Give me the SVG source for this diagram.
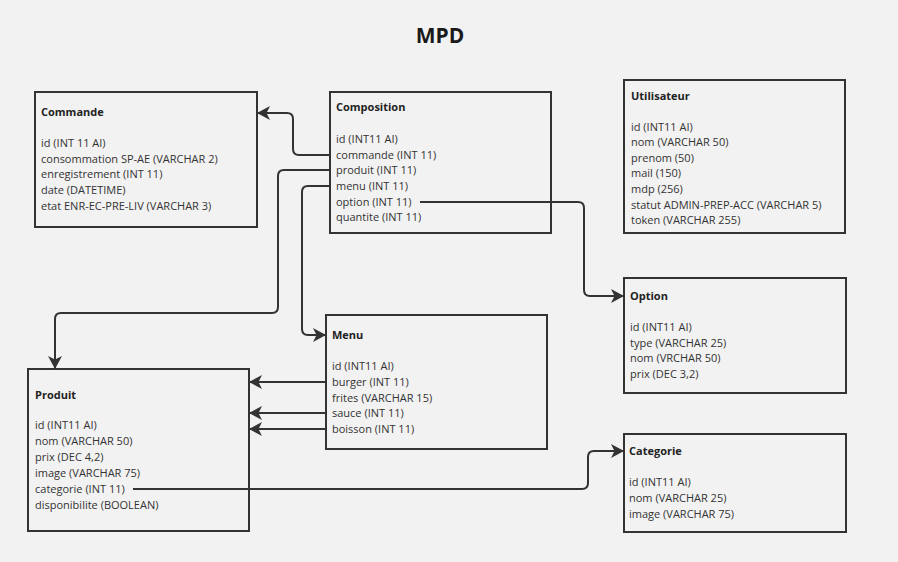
<svg xmlns="http://www.w3.org/2000/svg" width="898" height="562" viewBox="0 0 898 562">
<style>
.box{fill:#f2f2f2;stroke:#333;stroke-width:2}
.t{font-family:"Open Sans","Liberation Sans",sans-serif;font-size:11px;fill:#333}
.h{font-family:"Open Sans","Liberation Sans",sans-serif;font-size:11px;font-weight:bold;fill:#222}
.title{font-family:"Open Sans","Liberation Sans",sans-serif;font-size:21px;font-weight:bold;fill:#1a1a1a}
.c{fill:none;stroke:#333;stroke-width:2;marker-end:url(#arr)}
</style>
<defs>
<marker id="arr" viewBox="0 0 13 14" markerUnits="userSpaceOnUse" markerWidth="13" markerHeight="14" refX="13" refY="7" orient="auto">
<path d="M0,0 L13,7 L0,14 L3.5,7 z" fill="#333"/>
</marker>
</defs>
<rect width="898" height="562" fill="#f2f2f2"/>
<text class="title" x="440" y="43" text-anchor="middle">MPD</text>

<g id="commande">
<rect class="box" x="35" y="92" width="222" height="135"/>
<text class="h" x="41" y="116">Commande</text>
<text class="t" x="41" y="147">id (INT 11 AI)</text>
<text class="t" x="41" y="163">consommation SP-AE (VARCHAR 2)</text>
<text class="t" x="41" y="178">enregistrement (INT 11)</text>
<text class="t" x="41" y="194">date (DATETIME)</text>
<text class="t" x="41" y="210">etat ENR-EC-PRE-LIV (VARCHAR 3)</text>
</g>

<g id="composition">
<rect class="box" x="330" y="92" width="221" height="141"/>
<text class="h" x="336" y="111">Composition</text>
<text class="t" x="336" y="143">id (INT11 AI)</text>
<text class="t" x="336" y="159">commande (INT 11)</text>
<text class="t" x="336" y="174">produit (INT 11)</text>
<text class="t" x="336" y="190">menu (INT 11)</text>
<text class="t" x="336" y="206">option (INT 11)</text>
<text class="t" x="336" y="221">quantite (INT 11)</text>
</g>

<g id="utilisateur">
<rect class="box" x="624" y="80" width="221" height="153"/>
<text class="h" x="631" y="100">Utilisateur</text>
<text class="t" x="631" y="131">id (INT11 AI)</text>
<text class="t" x="631" y="146">nom (VARCHAR 50)</text>
<text class="t" x="631" y="162">prenom (50)</text>
<text class="t" x="631" y="177">mail (150)</text>
<text class="t" x="631" y="193">mdp (256)</text>
<text class="t" x="631" y="209">statut ADMIN-PREP-ACC (VARCHAR 5)</text>
<text class="t" x="631" y="224">token (VARCHAR 255)</text>
</g>

<g id="option">
<rect class="box" x="624" y="278" width="222" height="115"/>
<text class="h" x="630" y="300">Option</text>
<text class="t" x="630" y="331">id (INT11 AI)</text>
<text class="t" x="630" y="347">type (VARCHAR 25)</text>
<text class="t" x="630" y="362">nom (VRCHAR 50)</text>
<text class="t" x="630" y="378">prix (DEC 3,2)</text>
</g>

<g id="categorie">
<rect class="box" x="624" y="434" width="222" height="98"/>
<text class="h" x="629" y="455">Categorie</text>
<text class="t" x="629" y="486">id (INT11 AI)</text>
<text class="t" x="629" y="502">nom (VARCHAR 25)</text>
<text class="t" x="629" y="518">image (VARCHAR 75)</text>
</g>

<g id="produit">
<rect class="box" x="28" y="369" width="221" height="162"/>
<text class="h" x="35" y="399">Produit</text>
<text class="t" x="35" y="429">id (INT11 AI)</text>
<text class="t" x="35" y="445">nom (VARCHAR 50)</text>
<text class="t" x="35" y="461">prix (DEC 4,2)</text>
<text class="t" x="35" y="477">image (VARCHAR 75)</text>
<text class="t" x="35" y="493">categorie (INT 11)</text>
<text class="t" x="35" y="509">disponibilite (BOOLEAN)</text>
</g>

<g id="menu">
<rect class="box" x="326" y="315" width="221" height="134"/>
<text class="h" x="332" y="339">Menu</text>
<text class="t" x="332" y="370">id (INT11 AI)</text>
<text class="t" x="332" y="386">burger (INT 11)</text>
<text class="t" x="332" y="402">frites (VARCHAR 15)</text>
<text class="t" x="332" y="417">sauce (INT 11)</text>
<text class="t" x="332" y="433">boisson (INT 11)</text>
</g>

<g id="connectors">
<path class="c" d="M330,155 H299 Q293,155 293,149 V119 Q293,113 287,113 H257"/>
<path class="c" d="M330,170 H284 Q278,170 278,176 V307 Q278,313 272,313 H61 Q55,313 55,319 V369"/>
<path class="c" d="M330,186 H308 Q302,186 302,192 V329 Q302,335 308,335 H326"/>
<path class="c" d="M420,202 H578 Q584,202 584,208 V290 Q584,296 590,296 H624"/>
<path class="c" d="M326,382 H249"/>
<path class="c" d="M326,413 H249"/>
<path class="c" d="M326,429 H249"/>
<path class="c" d="M133,489 H582 Q588,489 588,483 V457 Q588,451 594,451 H624"/>
</g>
</svg>
